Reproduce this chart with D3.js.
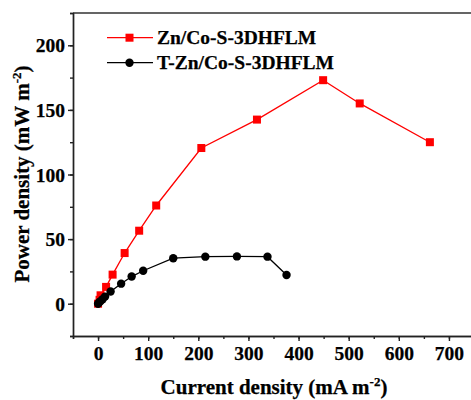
<!DOCTYPE html>
<html>
<head>
<meta charset="utf-8">
<script src="https://cdn.jsdelivr.net/npm/d3@7"></script>
<style>
	body { margin: 0; background: #fff; }
	svg { display: block; }
	svg text { font-family: "Liberation Serif", "Times New Roman", serif; font-weight: bold; stroke: #000; stroke-width: 0.25px; }
</style>
</head>
<body>
<div id="chart"></div>
<script>
	'use strict';

	// Data
	var seriesNames = ['Zn/Co-S-3DHFLM', 'T-Zn/Co-S-3DHFLM'];

	var znCurrent = [0, 3, 5, 16, 29, 53, 82, 116, 206, 317, 449, 522, 662];
	var znPower = [0, 3, 6.5, 13, 22.5, 39.2, 56.5, 76, 120.5, 142.5, 173, 155, 125];

	var tznCurrent = [0, 2, 5, 9, 14, 25, 46, 67, 90, 150, 214, 277, 338, 376];
	var tznPower = [0, 1, 2, 3.5, 5.5, 9.5, 15.5, 21, 25.5, 35.2, 36.4, 36.6, 36.4, 22.2];

	var xTicks = [0, 100, 200, 300, 400, 500, 600, 700];
	var yTicks = [0, 50, 100, 150, 200];

	var width = 471, height = 400;
	var margin = {top: 13, right: -3, bottom: 64, left: 73};
	var fontFamily = '"Liberation Serif", "Times New Roman", serif';

	var svg = d3.select('#chart')
		.append('svg')
		.attr('width', width)
		.attr('height', height);

	var w = width - margin.left - margin.right,
		h = height - margin.top - margin.bottom;

	var cont = svg.append('g')
		.attr('transform', 'translate(' + margin.left + ',' + margin.top + ')');

	// Scales
	var x = d3.scaleLinear()
		.domain([-50, 750])
		.range([0, w]);

	var y = d3.scaleLinear()
		.domain([-25, 225])
		.range([h, 0]);

	function pairs(xs, ys) {
		return xs.map(function(v, i) { return {x: v, y: ys[i]}; });
	}

	var series = [
		{name: seriesNames[0], color: '#ff0000', shape: 'square', data: pairs(znCurrent, znPower)},
		{name: seriesNames[1], color: '#000000', shape: 'circle', data: pairs(tznCurrent, tznPower)}
	];

	// Frame (top and right)
	cont.append('path')
		.attr('d', 'M0,0H' + w + 'V' + h)
		.attr('fill', 'none')
		.attr('stroke', '#333')
		.attr('stroke-width', 1.6);

	// Axes, minor ticks first
	var xMinor = d3.axisBottom(x).tickValues(d3.range(-50, 751, 50)).tickSize(3).tickFormat('');
	var yMinor = d3.axisLeft(y).tickValues(d3.range(-25, 226, 25)).tickSize(3).tickFormat('');

	cont.append('g')
		.attr('transform', 'translate(0,' + h + ')')
		.call(xMinor);
	cont.append('g')
		.call(yMinor);

	var xAxis = d3.axisBottom(x).tickValues(xTicks).tickSize(5).tickPadding(5).tickSizeOuter(0);
	var yAxis = d3.axisLeft(y).tickValues(yTicks).tickSize(5).tickPadding(3).tickSizeOuter(0);

	var gx = cont.append('g')
		.attr('transform', 'translate(0,' + h + ')')
		.call(xAxis);
	var gy = cont.append('g')
		.call(yAxis);

	svg.selectAll('.domain, .tick line')
		.attr('stroke', '#222')
		.attr('stroke-width', 1.4);

	[gx, gy].forEach(function(g) {
		g.attr('font-family', fontFamily)
			.attr('font-weight', 'bold')
			.attr('font-size', 19.5);
		g.selectAll('text')
			.style('font-family', fontFamily)
			.style('font-weight', 'bold')
			.attr('fill', '#000');
	});
	gy.selectAll('text').attr('dy', '0.34em');

	// Lines and markers
	var line = d3.line()
		.x(function(d) { return x(d.x); })
		.y(function(d) { return y(d.y); });

	function drawMarker(sel, s) {
		if (s.shape === 'square') {
			sel.append('rect')
				.attr('x', -4).attr('y', -4)
				.attr('width', 8).attr('height', 8)
				.attr('fill', s.color);
		} else {
			sel.append('circle')
				.attr('r', 4.2)
				.attr('fill', s.color);
		}
	}

	series.forEach(function(s) {
		cont.append('path')
			.datum(s.data)
			.attr('fill', 'none')
			.attr('stroke', s.color)
			.attr('stroke-width', 1.3)
			.attr('d', line);

		cont.append('g')
			.selectAll('g')
			.data(s.data)
			.enter().append('g')
				.attr('transform', function(d) { return 'translate(' + x(d.x) + ',' + y(d.y) + ')'; })
				.each(function() { drawMarker(d3.select(this), s); });
	});

	// Legend
	var legend = svg.append('g');
	series.forEach(function(s, i) {
		var ly = 37.7 + i * 25;
		legend.append('line')
			.attr('x1', 107).attr('x2', 153)
			.attr('y1', ly).attr('y2', ly)
			.attr('stroke', s.color)
			.attr('stroke-width', 1.3);
		var m = legend.append('g').attr('transform', 'translate(129.5,' + ly + ')');
		drawMarker(m, s);
		legend.append('text')
			.attr('x', 157)
			.attr('y', ly)
			.attr('dy', '0.34em')
			.attr('font-size', 19.5)
			.text(s.name);
	});

	// Axis titles
	var xt = svg.append('text')
		.attr('x', 274)
		.attr('y', 394)
		.attr('text-anchor', 'middle')
		.attr('font-size', 21);
	xt.append('tspan').text('Current density (mA m');
	xt.append('tspan').attr('dy', -8).attr('font-size', 13).text('-2');
	xt.append('tspan').attr('dy', 8).text(')');

	var yt = svg.append('text')
		.attr('transform', 'translate(29,174) rotate(-90)')
		.attr('text-anchor', 'middle')
		.attr('font-size', 21);
	yt.append('tspan').text('Power density (mW m');
	yt.append('tspan').attr('dy', -8).attr('font-size', 13).text('-2');
	yt.append('tspan').attr('dy', 8).text(')');
</script>
</body>
</html>
